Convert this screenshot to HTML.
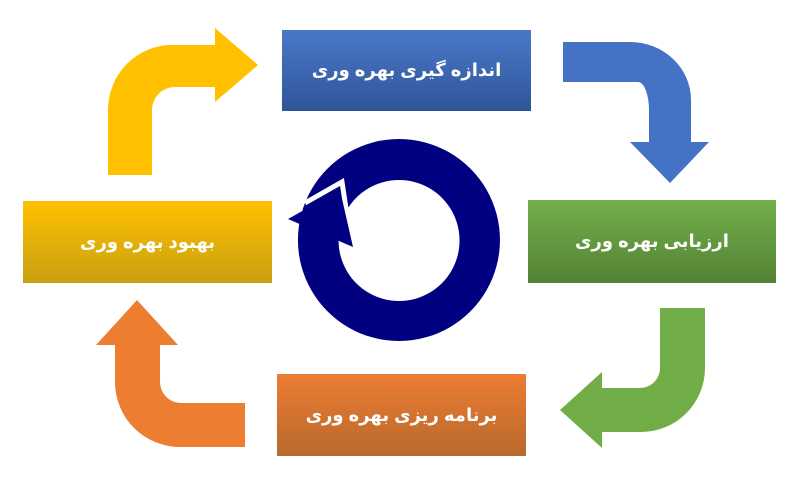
<!DOCTYPE html>
<html><head><meta charset="utf-8"><style>
html,body{margin:0;padding:0;background:#fff;width:800px;height:480px;overflow:hidden}
.b{position:absolute;display:flex;align-items:center;justify-content:center;color:#fff;font:bold 18px "Liberation Sans","DejaVu Sans",sans-serif;direction:rtl}
</style></head><body>
<svg width="800" height="480" style="position:absolute;left:0;top:0">
<path d="M563,42 H630 A61,58 0 0 1 691,100 V142 H709 L670,183 L630,142 H649 V110 A11,28 0 0 0 638,82 H563 Z" fill="#4472c4"/>
<path d="M108,175 V110 A64,65 0 0 1 172,45 H215 V28 L258,65 L215,102 V87 H175 A23,23 0 0 0 152,110 V175 Z" fill="#ffc000"/>
<path d="M660,308 H705 V368 A64,64 0 0 1 641,432 H602 V448 L560,410 L602,372 V388 H640 A20,20 0 0 0 660,368 Z" fill="#70ad47"/>
<path d="M245,403 V447 H180 A65,65 0 0 1 115,382 V345 H96 L137,300 L178,345 H160 V382 A21,21 0 0 0 181,403 Z" fill="#ed7d31"/>
<path fill-rule="evenodd" fill="#000080" d="M399,139 A101,101 0 1 1 398.9,139 Z M399,180 A60.5,60.5 0 1 0 399.1,180 Z"/>
<polyline points="305,203 342,182 352,248" fill="none" stroke="#fff" stroke-width="5"/>
<polygon points="288,219 340,190 353,247" fill="#000080"/>
</svg>
<div class="b" style="left:282px;top:30px;width:249px;height:81px;background:linear-gradient(#4a78c9,#2f5597)">اندازه گیری بهره وری</div>
<div class="b" style="left:528px;top:200px;width:248px;height:83px;background:linear-gradient(#72af49,#548235)">ارزیابی بهره وری</div>
<div class="b" style="left:23px;top:201px;width:249px;height:82px;background:linear-gradient(#ffc000,#c9a012)">بهبود بهره وری</div>
<div class="b" style="left:277px;top:374px;width:249px;height:82px;background:linear-gradient(#ed7d31,#b8692e)">برنامه ریزی بهره وری</div>
</body></html>
